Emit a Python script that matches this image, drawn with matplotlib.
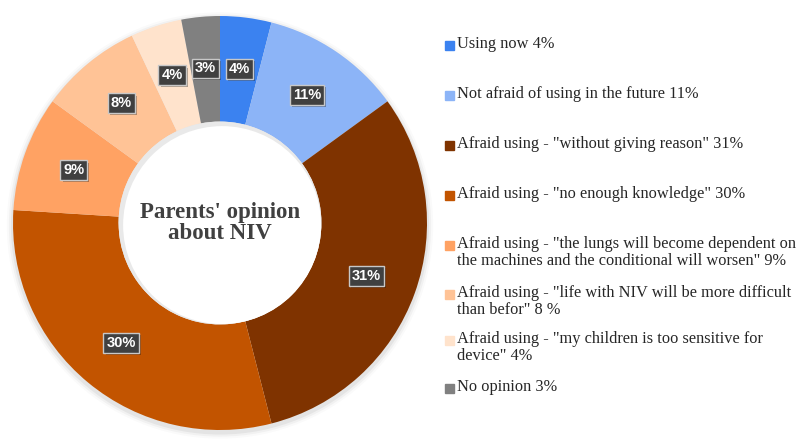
import numpy as np
import matplotlib.pyplot as plt
import matplotlib.patheffects as pe
from matplotlib.patches import Rectangle, Circle

# --- dados ---
categorias = [
    'Using now 4%',
    'Not afraid of using in the future 11%',
    'Afraid using - "without giving reason" 31%',
    'Afraid using - "no enough knowledge" 30%',
    'Afraid using - "the lungs will become dependent on\nthe machines and the conditional will worsen" 9%',
    'Afraid using - "life with NIV will be more difficult\nthan befor" 8 %',
    'Afraid using - "my children is too sensitive for\ndevice" 4%',
    'No opinion 3%',
]
valores = [4, 11, 31, 30, 9, 8, 4, 3]
rotulos = ['4%', '11%', '31%', '30%', '9%', '8%', '4%', '3%']
cores = ['#3b82f0', '#8cb4f7', '#7f3300', '#c25400', '#ffa263',
         '#ffc396', '#ffe3cc', '#808080']

# posição y (px a partir do topo) de cada entrada da legenda
y_legenda = [45, 95, 145, 195, 245, 294, 340, 388]

W, H = 797, 442
fig = plt.figure(figsize=(W / 100, H / 100), dpi=100)

cx, cy, R = 220, 223, 207
ax = fig.add_axes([(cx - R) / W, (H - cy - R) / H, 2 * R / W, 2 * R / H])

ax.pie(valores, colors=cores, startangle=90, counterclock=False, radius=1.0,
       wedgeprops=dict(width=0.51, linewidth=0))

# pie() redefine os limites, então ajusta depois
ax.set_xlim(-1.0, 1.0)
ax.set_ylim(-1.0, 1.0)
ax.set_aspect('equal')
ax.axis('off')

# sombra suave
for k, a in enumerate([0.05, 0.035, 0.02]):
    ax.add_patch(Circle((0.0, -0.012), 1.0 + 0.01 * (k + 1), color='#000000',
                        alpha=a, lw=0, zorder=0, clip_on=False))

# sombra interna do furo
ax.add_patch(Circle((0, 0), 0.49, color='#e9e9e9', lw=0, zorder=3))
ax.add_patch(Circle((0.01, -0.01), 0.478, color='white', lw=0, zorder=3))

ax.text(0, 0, "Parents' opinion\nabout NIV", ha='center', va='center',
        fontsize=16.5, fontweight='bold', family='Liberation Serif',
        color='#404040', linespacing=1.05, zorder=4)

# rótulos no meio do anel
acum = np.cumsum([0] + valores[:-1])
for v, a0, rot in zip(valores, acum, rotulos):
    ang = np.deg2rad(90 - (a0 + v / 2) * 3.6)
    t = ax.text(0.75 * np.cos(ang), 0.75 * np.sin(ang), rot, ha='center', va='center',
                fontsize=10.5, fontweight='bold', family='Liberation Sans',
                color='white', zorder=5,
                bbox=dict(boxstyle='square,pad=0.2', fc='#404040', ec='#c8c8c8', lw=1))
    t.get_bbox_patch().set_path_effects([
        pe.SimplePatchShadow(offset=(1.5, -1.5), alpha=0.35), pe.Normal()])

# legenda manual
for cor, txt, y in zip(cores, categorias, y_legenda):
    fig.patches.append(Rectangle((445 / W, 1 - (y + 5) / H), 9 / W, 9 / H,
                                 transform=fig.transFigure, color=cor))
    fig.text(457 / W, 1 - (y - 9) / H, txt, ha='left', va='top', fontsize=11.8,
             family='Liberation Serif', color='#262626', linespacing=1.1)

fig.savefig('out.png', dpi=100, facecolor='white')
